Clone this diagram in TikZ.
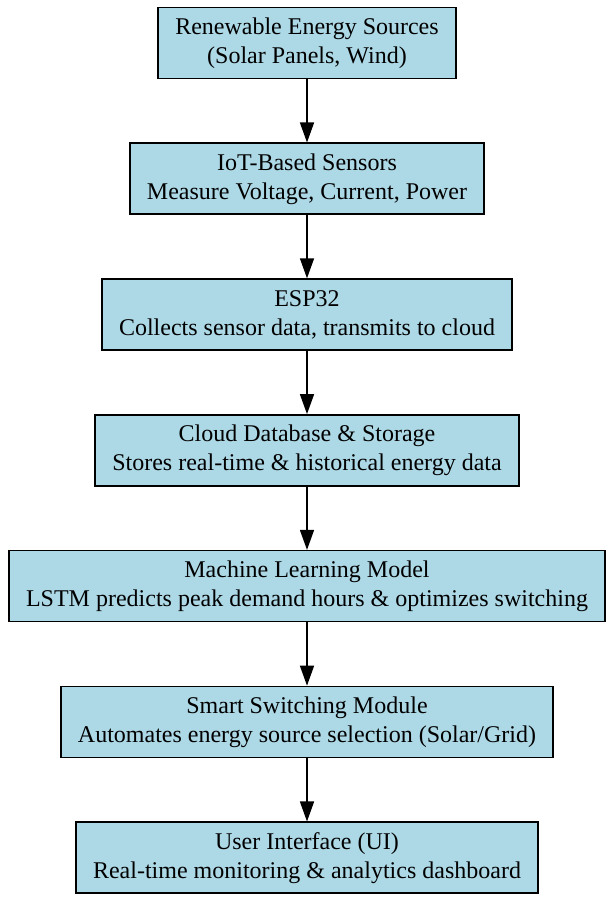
\documentclass[tikz,border=0pt]{standalone}
\usepackage{fontspec}
\setmainfont{Liberation Serif}
\usepackage{tikz}
\usetikzlibrary{positioning,arrows.meta}
\definecolor{boxblue}{RGB}{173,216,230}

\begin{document}
\begin{tikzpicture}[x=1pt,y=1pt,
  stage/.style={draw=black,line width=1.6pt,fill=boxblue,rectangle,
    minimum height=71pt,inner xsep=17pt,align=center,
    font=\fontsize{24}{29}\selectfont},
  flow/.style={line width=1.5pt,-{Triangle[length=20pt,width=14pt]}},
  node distance=63.2pt]
\useasboundingbox (0,0) rectangle (615,901);

\node[stage] (sources) at (307,858) {Renewable Energy Sources\\(Solar Panels, Wind)};
\node[stage,below=of sources] (sensors) {IoT-Based Sensors\\Measure Voltage, Current, Power};
\node[stage,below=of sensors] (esp) {ESP32\\Collects sensor data, transmits to cloud};
\node[stage,below=of esp] (cloud) {Cloud Database \& Storage\\Stores real-time \& historical energy data};
\node[stage,below=of cloud] (lstm) {Machine Learning Model\\LSTM predicts peak demand hours \& optimizes switching};
\node[stage,below=of lstm] (switch) {Smart Switching Module\\Automates energy source selection (Solar/Grid)};
\node[stage,below=of switch] (ui) {User Interface (UI)\\Real-time monitoring \& analytics dashboard};

\foreach \a/\b in {sources/sensors,sensors/esp,esp/cloud,cloud/lstm,lstm/switch,switch/ui}{
  \draw[flow] (\a) -- (\b);
};

\end{tikzpicture}
\end{document}
